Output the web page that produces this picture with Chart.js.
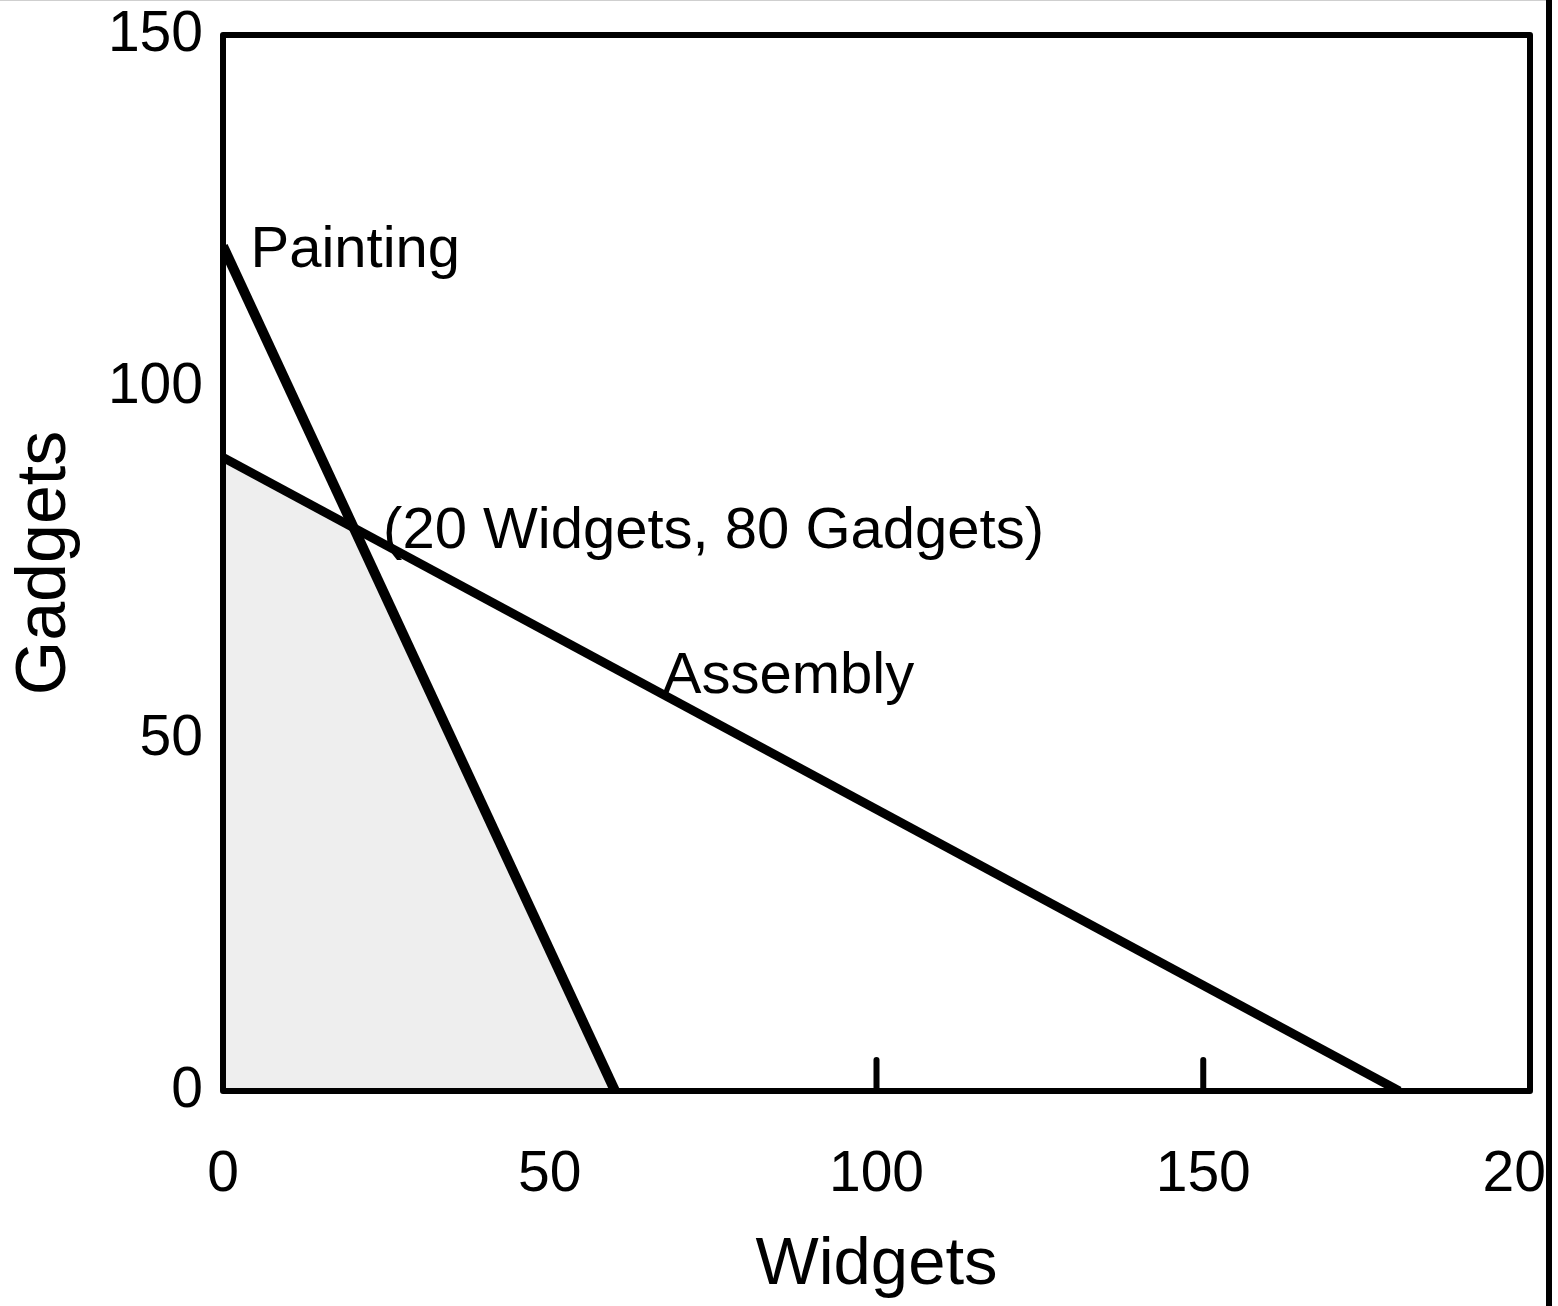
<!DOCTYPE html>
<html>
<head>
<meta charset="utf-8">
<script src="https://cdn.jsdelivr.net/npm/chart.js@4.4.1/dist/chart.umd.min.js"></script>
<style>
  html, body { margin: 0; padding: 0; background: #fff; }
  #wrap { width: 1558px; height: 1306px; position: relative; }
</style>
</head>
<body>
<div id="wrap"><canvas id="ppfChart"></canvas></div>
<script>
// Production possibilities: widgets (x) vs gadgets (y)
const paintingX = [0, 60];
const paintingY = [120, 0];
const assemblyX = [0, 180];
const assemblyY = [90, 0];
const frontierX = [0, 20, 60];
const frontierY = [90, 80, 0];
const xTicks = [0, 50, 100, 150, 200];
const yTicks = [0, 50, 100, 150];
const innerTicks = [100, 150];
const labels = [
  { text: "Painting", x: 4.2, y: 117 },
  { text: "(20 Widgets, 80 Gadgets)", x: 24.5, y: 77.2 },
  { text: "Assembly", x: 67.3, y: 56.6 },
];

const FONT = "'Liberation Sans', Arial, sans-serif";

function toPoints(xs, ys) {
  return xs.map(function (x, i) {
    return { x: x, y: ys[i] };
  });
}

// box, inner ticks, text labels and the stray page edge
const decor = {
  id: "decor",
  afterDatasetsDraw: function (chart) {
    const ctx = chart.ctx;
    const a = chart.chartArea;
    const xs = chart.scales.x;
    const ys = chart.scales.y;
    ctx.save();
    ctx.strokeStyle = "#000";
    ctx.lineWidth = 6;
    ctx.lineCap = "round";
    innerTicks.forEach(function (v) {
      const px = xs.getPixelForValue(v);
      ctx.beginPath();
      ctx.moveTo(px, a.bottom);
      ctx.lineTo(px, a.bottom - 31);
      ctx.stroke();
    });
    ctx.lineCap = "butt";
    ctx.lineJoin = "round";
    ctx.lineWidth = 6;
    ctx.strokeRect(a.left, a.top, a.right - a.left, a.bottom - a.top);

    ctx.fillStyle = "#000";
    ctx.font = "58px " + FONT;
    ctx.textAlign = "left";
    ctx.textBaseline = "alphabetic";
    labels.forEach(function (l) {
      ctx.fillText(l.text, xs.getPixelForValue(l.x), ys.getPixelForValue(l.y));
    });
    ctx.restore();
  },
  afterDraw: function (chart) {
    const ctx = chart.ctx;
    ctx.save();
    ctx.fillStyle = "#fff";
    ctx.fillRect(1552, 0, 20, chart.height);
    ctx.fillStyle = "#000";
    ctx.fillRect(1546, 0, 6, chart.height);
    ctx.fillStyle = "#cfcfcf";
    ctx.fillRect(0, 0, 1546, 1);
    ctx.restore();
  },
};

new Chart(document.getElementById("ppfChart"), {
  type: "scatter",
  data: {
    datasets: [
      {
        label: "Painting",
        data: toPoints(paintingX, paintingY),
        showLine: true,
        borderColor: "#000",
        borderWidth: 10,
        pointRadius: 0,
        fill: false,
        order: 1,
      },
      {
        label: "Assembly",
        data: toPoints(assemblyX, assemblyY),
        showLine: true,
        borderColor: "#000",
        borderWidth: 9,
        pointRadius: 0,
        fill: false,
        order: 1,
      },
      {
        label: "Feasible",
        data: toPoints(frontierX, frontierY),
        showLine: true,
        borderColor: "#000",
        borderWidth: 7,
        backgroundColor: "#eeeeee",
        pointRadius: 0,
        fill: "origin",
        order: 2,
      },
    ],
  },
  options: {
    responsive: true,
    maintainAspectRatio: false,
    animation: false,
    layout: {
      padding: { top: 35, right: 28, left: 0, bottom: 0 },
    },
    plugins: {
      legend: { display: false },
      tooltip: { enabled: false },
    },
    scales: {
      x: {
        type: "linear",
        min: 0,
        max: 200,
        afterBuildTicks: function (scale) {
          scale.ticks = xTicks.map(function (v) { return { value: v }; });
        },
        afterFit: function (scale) {
          scale.height = 215;
          scale.paddingLeft = 0;
          scale.paddingRight = 0;
        },
        grid: { display: false, drawTicks: false },
        border: { display: false },
        ticks: {
          color: "#000",
          padding: 50,
          maxRotation: 0,
          autoSkip: false,
          font: { family: FONT, size: 57 },
        },
        title: {
          display: true,
          text: "Widgets",
          color: "#000",
          padding: { top: 0, bottom: 0 },
          font: { family: FONT, size: 67 },
        },
      },
      y: {
        type: "linear",
        min: 0,
        max: 150,
        afterBuildTicks: function (scale) {
          scale.ticks = yTicks.map(function (v) { return { value: v }; });
        },
        afterFit: function (scale) {
          scale.width = 223;
          scale.paddingTop = 0;
          scale.paddingBottom = 0;
        },
        grid: { display: false, drawTicks: false },
        border: { display: false },
        ticks: {
          color: "#000",
          padding: 20,
          autoSkip: false,
          font: { family: FONT, size: 57 },
        },
        title: {
          display: true,
          text: "Gadgets",
          color: "#000",
          padding: { top: 4, bottom: 0 },
          font: { family: FONT, size: 70 },
        },
      },
    },
  },
  plugins: [decor],
});
</script>
</body>
</html>
